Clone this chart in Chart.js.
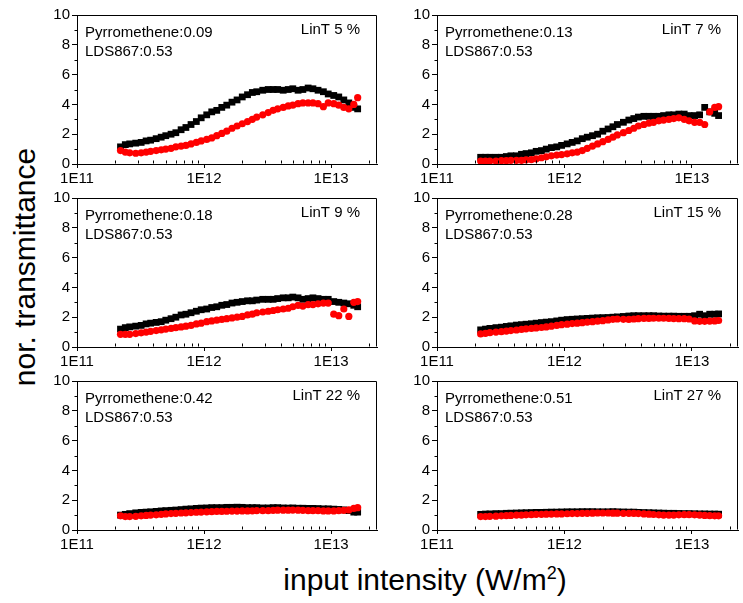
<!DOCTYPE html>
<html lang="en">
<head>
    <meta charset="UTF-8">
    <title>nor. transmittance vs input intensity</title>
    <script src="https://cdn.jsdelivr.net/npm/chart.js@4.4.1/dist/chart.umd.min.js"></script>
    <style>
        body {
            margin: 0;
            background: #fff;
            font-family: "Liberation Sans", Arial, sans-serif;
        }
        #wrap {
            position: relative;
            width: 743px;
            height: 603px;
            overflow: hidden;
        }
        .panel {
            position: absolute;
        }
        .axis-title {
            position: absolute;
            font-size: 30px;
            line-height: 30px;
            white-space: nowrap;
            color: #000;
        }
        #ytitle {
            left: 25px;
            top: 267px;
            transform: translate(-50%, -50%) rotate(-90deg);
        }
        #xtitle {
            left: 425px;
            top: 565px;
            transform: translateX(-50%);
        }
        #xtitle sup {
            font-size: 18px;
            line-height: 0;
        }
    </style>
</head>
<body>
<div id="wrap">
    <div class="axis-title" id="ytitle">nor. transmittance</div>
    <div class="axis-title" id="xtitle">input intensity (W/m<sup>2</sup>)</div>
</div>

<script>
    // ---- data ----
    var xIntensity = [2.2e11, 2.4e11, 2.6e11, 2.9e11, 3.2e11, 3.5e11, 3.8e11, 4.2e11, 4.6e11, 5.0e11,
        5.5e11, 6.0e11, 6.6e11, 7.2e11, 7.9e11, 8.7e11, 9.5e11, 1.05e12, 1.15e12, 1.26e12,
        1.38e12, 1.51e12, 1.66e12, 1.82e12, 2.0e12, 2.2e12, 2.4e12, 2.6e12, 2.9e12, 3.2e12,
        3.5e12, 3.8e12, 4.2e12, 4.6e12, 5.0e12, 5.5e12, 6.0e12, 6.6e12, 7.2e12, 7.9e12,
        8.7e12, 9.5e12, 1.05e13, 1.15e13, 1.26e13, 1.38e13, 1.51e13, 1.62e13];

    var xTickValues = [1e11, 1e12, 1e13];
    var xTickLabels = ['1E11', '1E12', '1E13'];
    var yTickStep = 2;

    var pyrroLabels = ['Pyrromethene:0.09', 'Pyrromethene:0.13', 'Pyrromethene:0.18',
        'Pyrromethene:0.28', 'Pyrromethene:0.42', 'Pyrromethene:0.51'];
    var ldsLabel = 'LDS867:0.53';
    var linTLabels = ['LinT 5 %', 'LinT 7 %', 'LinT 9 %', 'LinT 15 %', 'LinT 22 %', 'LinT 27 %'];

    // black squares
    var black1 = [1.15, 1.3, 1.35, 1.4, 1.45, 1.55, 1.6, 1.7, 1.8, 1.9, 2.0, 2.1, 2.3, 2.45, 2.65, 2.85,
        3.1, 3.3, 3.5, 3.6, 3.8, 3.95, 4.15, 4.3, 4.5, 4.65, 4.8, 4.85, 4.95, 5.0, 5.0, 5.0, 4.95, 5.0,
        5.05, 4.95, 5.0, 5.1, 5.05, 4.95, 4.85, 4.7, 4.6, 4.5, 4.3, 4.1, 3.8, 3.7];
    var black2 = [0.45, 0.45, 0.45, 0.45, 0.45, 0.5, 0.55, 0.55, 0.65, 0.7, 0.75, 0.85, 0.9, 1.0, 1.1, 1.15,
        1.25, 1.35, 1.45, 1.55, 1.7, 1.8, 1.9, 2.0, 2.2, 2.35, 2.5, 2.65, 2.8, 2.95, 3.05, 3.15, 3.2, 3.2,
        3.2, 3.2, 3.25, 3.3, 3.3, 3.35, 3.35, 3.25, 3.25, 3.3, 3.8, 3.5, 3.4, 3.25];
    var black3 = [1.2, 1.3, 1.35, 1.4, 1.45, 1.55, 1.6, 1.65, 1.7, 1.8, 1.9, 2.0, 2.15, 2.2, 2.3, 2.4,
        2.5, 2.55, 2.65, 2.7, 2.8, 2.85, 2.95, 3.0, 3.05, 3.1, 3.1, 3.15, 3.2, 3.2, 3.2, 3.25, 3.3, 3.3,
        3.35, 3.3, 3.2, 3.25, 3.3, 3.25, 3.2, 3.2, 3.05, 3.0, 2.95, 2.9, 2.8, 2.7];
    var black4 = [1.15, 1.2, 1.25, 1.3, 1.33, 1.38, 1.42, 1.47, 1.5, 1.53, 1.56, 1.6, 1.64, 1.67, 1.7, 1.75,
        1.8, 1.84, 1.86, 1.88, 1.9, 1.92, 1.94, 1.96, 1.97, 1.98, 2.0, 2.02, 2.05, 2.08, 2.1, 2.1, 2.1, 2.1,
        2.1, 2.08, 2.07, 2.07, 2.07, 2.06, 2.06, 2.06, 2.1, 2.2, 2.1, 2.2, 2.2, 2.22];
    var black5 = [1.0, 1.05, 1.1, 1.15, 1.18, 1.2, 1.22, 1.25, 1.28, 1.3, 1.32, 1.34, 1.37, 1.4, 1.42, 1.45,
        1.47, 1.48, 1.5, 1.5, 1.5, 1.52, 1.52, 1.53, 1.52, 1.5, 1.5, 1.5, 1.48, 1.48, 1.5, 1.5, 1.48, 1.47,
        1.48, 1.46, 1.46, 1.45, 1.45, 1.44, 1.42, 1.42, 1.4, 1.38, 1.35, 1.3, 1.2, 1.2];
    var black6 = [1.05, 1.07, 1.08, 1.1, 1.1, 1.12, 1.13, 1.14, 1.15, 1.16, 1.17, 1.18, 1.18, 1.19, 1.2, 1.2,
        1.21, 1.22, 1.22, 1.22, 1.23, 1.23, 1.23, 1.22, 1.22, 1.22, 1.23, 1.22, 1.21, 1.2, 1.2, 1.18, 1.17, 1.16,
        1.15, 1.14, 1.13, 1.12, 1.12, 1.11, 1.1, 1.1, 1.09, 1.08, 1.08, 1.07, 1.07, 1.06];

    // red circles
    var red1 = [0.9, 0.8, 0.75, 0.72, 0.75, 0.8, 0.85, 0.9, 0.95, 1.0, 1.05, 1.15, 1.2, 1.25, 1.35, 1.45,
        1.55, 1.65, 1.75, 1.9, 2.05, 2.2, 2.4, 2.55, 2.7, 2.85, 3.0, 3.15, 3.3, 3.45, 3.6, 3.7, 3.8, 3.9,
        3.95, 4.05, 4.1, 4.1, 4.1, 4.05, 3.85, 4.1, 4.05, 3.95, 3.8, 3.7, 4.0, 4.45];
    var red2 = [0.2, 0.2, 0.2, 0.2, 0.22, 0.22, 0.25, 0.25, 0.25, 0.28, 0.3, 0.35, 0.42, 0.48, 0.55, 0.6,
        0.63, 0.68, 0.75, 0.8, 0.9, 1.05, 1.2, 1.35, 1.5, 1.65, 1.8, 1.95, 2.1, 2.25, 2.4, 2.55, 2.65, 2.75,
        2.8, 2.9, 2.95, 3.0, 3.05, 3.1, 3.0, 2.9, 2.8, 2.8, 2.65, 3.5, 3.8, 3.85];
    var red3 = [0.85, 0.85, 0.85, 0.9, 0.95, 1.0, 1.05, 1.1, 1.15, 1.2, 1.25, 1.3, 1.35, 1.4, 1.45, 1.55,
        1.6, 1.7, 1.75, 1.8, 1.85, 1.9, 1.95, 2.0, 2.05, 2.15, 2.2, 2.3, 2.35, 2.4, 2.45, 2.5, 2.55, 2.6,
        2.7, 2.8, 2.75, 2.85, 2.85, 2.9, 2.95, 2.95, 2.2, 2.1, 2.55, 2.05, 3.0, 3.05];
    var red4 = [0.88, 0.92, 0.96, 1.0, 1.03, 1.07, 1.1, 1.14, 1.18, 1.22, 1.25, 1.28, 1.31, 1.35, 1.4, 1.45,
        1.5, 1.53, 1.57, 1.6, 1.63, 1.67, 1.7, 1.73, 1.77, 1.82, 1.86, 1.88, 1.86, 1.85, 1.88, 1.9, 1.92, 1.92,
        1.93, 1.93, 1.93, 1.92, 1.91, 1.9, 1.9, 1.88, 1.75, 1.72, 1.72, 1.74, 1.75, 1.78];
    var red5 = [0.95, 0.9, 0.9, 0.92, 0.95, 0.98, 1.0, 1.02, 1.05, 1.08, 1.1, 1.12, 1.14, 1.15, 1.17, 1.19,
        1.2, 1.22, 1.23, 1.25, 1.25, 1.26, 1.27, 1.27, 1.28, 1.28, 1.29, 1.3, 1.3, 1.3, 1.32, 1.33, 1.33, 1.33,
        1.34, 1.33, 1.32, 1.3, 1.3, 1.3, 1.28, 1.28, 1.28, 1.3, 1.32, 1.35, 1.45, 1.5];
    var red6 = [0.9, 0.9, 0.92, 0.93, 0.95, 0.96, 0.98, 1.0, 1.0, 1.02, 1.03, 1.05, 1.05, 1.06, 1.07, 1.08,
        1.08, 1.09, 1.1, 1.1, 1.12, 1.12, 1.13, 1.14, 1.14, 1.14, 1.13, 1.13, 1.12, 1.12, 1.11, 1.1, 1.08, 1.06,
        1.04, 1.02, 1.0, 1.0, 1.0, 1.02, 1.03, 1.03, 1.02, 1.0, 0.98, 0.96, 0.95, 0.95];

    var blackSeries = [black1, black2, black3, black4, black5, black6];
    var redSeries = [red1, red2, red3, red4, red5, red6];

    // ---- layout (plot area in page pixels) ----
    var colLeft = [77, 437];
    var colWidth = [300, 301];
    var rowTop = [15, 198, 381];
    var plotH = 149;
    var padL = 45, padT = 12, padR = 6, padB = 30;

    var FONT = '"Liberation Sans", Arial, sans-serif';

    var panelDeco = {
        id: 'panelDeco',
        afterDraw: function (chart) {
            var ctx = chart.ctx;
            var a = chart.chartArea;
            var xs = chart.scales.x, ys = chart.scales.y;
            var idx = chart.options.plugins.panelDeco.index;
            ctx.save();
            ctx.strokeStyle = '#000';
            ctx.lineWidth = 1;
            var L = Math.round(a.left) + 0.5, R = Math.round(a.right) - 0.5;
            var T = Math.round(a.top) + 0.5, B = Math.round(a.bottom) - 0.5;
            ctx.beginPath();
            ctx.moveTo(L, T); ctx.lineTo(R, T); ctx.lineTo(R, B);
            // minor y ticks (odd values), outward
            for (var v = 1; v < 10; v += 2) {
                var py = Math.round(ys.getPixelForValue(v)) + 0.5;
                ctx.moveTo(L - 3, py); ctx.lineTo(L, py);
            }
            // minor x ticks (2..9 per decade), inward
            for (var d = 1e11; d <= 1e13; d *= 10) {
                for (var m = 2; m <= 9; m++) {
                    var val = m * d;
                    if (val > xs.max) break;
                    var px = Math.round(xs.getPixelForValue(val)) + 0.5;
                    ctx.moveTo(px, B); ctx.lineTo(px, B - 3);
                }
            }
            ctx.stroke();

            ctx.fillStyle = '#000';
            ctx.font = '15px ' + FONT;
            ctx.textBaseline = 'alphabetic';
            ctx.textAlign = 'left';
            ctx.fillText(pyrroLabels[idx], a.left + 8, a.top + 22);
            ctx.fillText(ldsLabel, a.left + 8, a.top + 41);
            ctx.textAlign = 'right';
            ctx.fillText(linTLabels[idx], a.right - 17, a.top + 19);
            ctx.restore();
        }
    };

    var wrap = document.getElementById('wrap');

    for (var i = 0; i < 6; i++) {
        var col = i % 2, row = Math.floor(i / 2);
        var w = colWidth[col] + padL + padR;
        var h = plotH + padT + padB;
        var canvas = document.createElement('canvas');
        canvas.className = 'panel';
        canvas.style.left = (colLeft[col] - padL) + 'px';
        canvas.style.top = (rowTop[row] - padT) + 'px';
        canvas.style.width = w + 'px';
        canvas.style.height = h + 'px';
        canvas.width = w;
        canvas.height = h;
        wrap.appendChild(canvas);

        var redPts = xIntensity.map(function (x, k) { return { x: x, y: this[k] }; }, redSeries[i]);
        var blackPts = xIntensity.map(function (x, k) { return { x: x, y: this[k] }; }, blackSeries[i]);

        new Chart(canvas.getContext('2d'), {
            type: 'scatter',
            data: {
                datasets: [{
                    label: 'red',
                    data: redPts,
                    order: 0,
                    pointStyle: 'circle',
                    pointRadius: 3.6,
                    backgroundColor: '#ff0000',
                    borderColor: '#ff0000',
                    borderWidth: 0,
                    showLine: false
                }, {
                    label: 'black',
                    data: blackPts,
                    order: 1,
                    pointStyle: 'rect',
                    pointRadius: 4.8,
                    backgroundColor: '#000000',
                    borderColor: '#000000',
                    borderWidth: 0,
                    showLine: false
                }]
            },
            options: {
                responsive: false,
                animation: false,
                events: [],
                layout: { padding: { left: 0, top: padT, right: padR, bottom: 0 } },
                plugins: {
                    legend: { display: false },
                    tooltip: { enabled: false },
                    panelDeco: { index: i }
                },
                scales: {
                    x: {
                        type: 'logarithmic',
                        min: 1e11,
                        max: 2.3e13,
                        afterBuildTicks: function (s) {
                            s.ticks = xTickValues.map(function (v) { return { value: v }; });
                        },
                        afterFit: function (s) { s.height = padB; },
                        ticks: {
                            autoSkip: false,
                            maxRotation: 0,
                            padding: 2,
                            color: '#000',
                            font: { family: FONT, size: 15 },
                            callback: function (v, k) { return xTickLabels[k]; }
                        },
                        grid: { drawOnChartArea: false, drawTicks: true, tickLength: 4, color: '#000' },
                        border: { display: true, color: '#000', width: 1 }
                    },
                    y: {
                        min: 0,
                        max: 10,
                        afterFit: function (s) { s.width = padL; },
                        ticks: {
                            stepSize: yTickStep,
                            padding: 2,
                            color: '#000',
                            font: { family: FONT, size: 15 }
                        },
                        grid: { drawOnChartArea: false, drawTicks: true, tickLength: 5, color: '#000' },
                        border: { display: true, color: '#000', width: 1 }
                    }
                }
            },
            plugins: [panelDeco]
        });
    }
</script>
</body>
</html>
